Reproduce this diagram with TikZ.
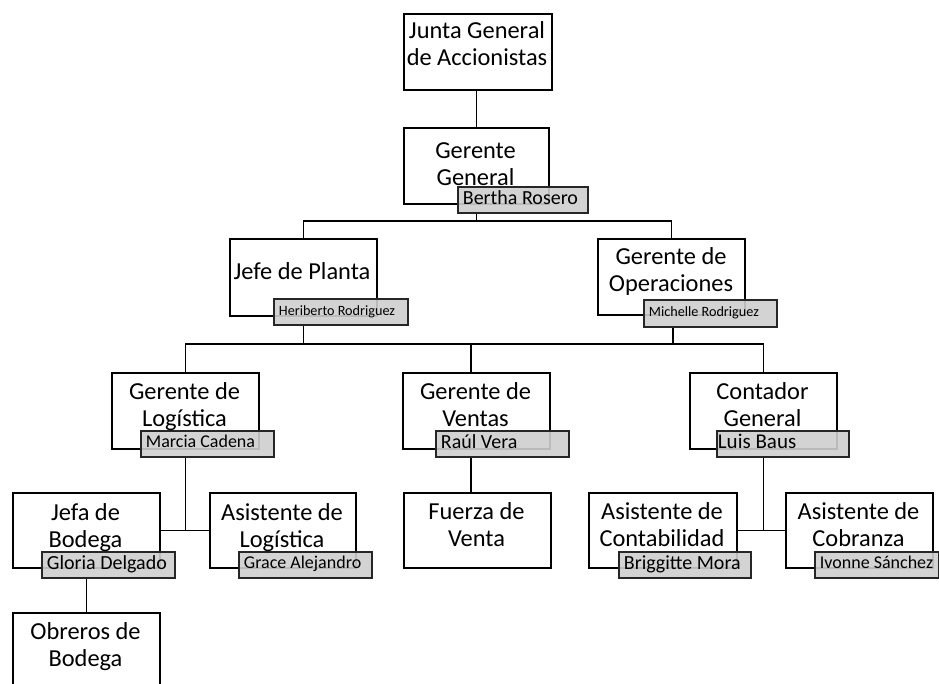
\documentclass[tikz,border=0pt]{standalone}
\usepackage{fontspec}
\setmainfont{Carlito}
\tikzset{
  orgbox/.style={draw=black, line width=1.8pt, fill=white, anchor=north west, inner sep=0pt},
  orgtag/.style={draw=black!85, line width=1.8pt, fill=gray!38, fill opacity=0.9, text opacity=1,
    anchor=north west, inner xsep=5pt, inner ysep=0pt},
  orglbl/.style={anchor=base, inner sep=0pt, font=\fontsize{24.4}{27}\selectfont},
  conn/.style={line width=1.8pt, draw=black}
}
\newcommand\obox[5]{\node[orgbox, minimum width={(#4-#2)*1pt}, minimum height={(#5-#3)*1pt}] (#1) at (#2,#3) {};}
\newcommand\otag[7]{\pgfmathsetlengthmacro\otw{(#4-#2)*1pt-10pt}%
  \pgfmathsetlengthmacro\oth{0.7*#6*1pt}%
  \pgfmathsetlengthmacro\otd{0.25*#6*1pt}%
  \node[orgtag, text height=\oth, text depth=\otd, minimum height={(#5-#3)*1pt}, font=\fontsize{#6}{#6}\selectfont] (#1) at (#2,#3) {\makebox[\otw][l]{#7}};}
\newcommand\olbl[4]{\node[orglbl] (#1) at (#2,#3) {\begin{tabular}[t]{@{}c@{}}#4\end{tabular}};}
\begin{document}
\begin{tikzpicture}[x=1pt,y=-1pt]
\useasboundingbox (0,0) rectangle (939,684);
\clip (0,0) rectangle (939,684);
\fill[white] (0,0) rectangle (939,684);

% coordinates for buses
\coordinate (bus1) at (0,221);
\coordinate (bus2) at (0,344);
\coordinate (gvx) at (471,0);

% boxes
\obox{junta}{403}{13}{551}{89}
\obox{gg}{403}{127}{548}{203}
\obox{jp}{229}{238}{376}{315}
\obox{go}{597}{238}{744}{314}
\obox{gl}{111}{372}{258}{448}
\obox{gv}{402}{372}{549}{448}
\obox{gc}{689}{372}{836}{448}
\obox{jb}{12}{492}{159}{567}
\obox{al}{209}{492}{355}{567}
\obox{fv}{403}{492}{550}{567}
\obox{ac}{588}{492}{736}{567}
\obox{aco}{785}{492}{932}{567}
\obox{ob}{12}{612}{159}{700}

% connectors
\draw[conn] (gg.north |- junta.south) -- (gg.north);
\draw[conn] (gg.south |- bus1) -- (gg.south |- 0,212);
\draw[conn] (jp.north) |- (bus1 -| go.north) -- (go.north);
\draw[conn] (jp.south |- 0,324) -- (jp.south |- bus2);
\draw[conn] (673,326) -- (673,344);
\draw[conn] (gl.north) |- (bus2 -| gc.north) -- (gc.north);
\draw[conn] (gvx |- gv.north) -- (gvx |- bus2);
\draw[conn] (gl.south |- 0,456) -- (gl.south |- jb.east);
\draw[conn] (jb.east) -- (al.west);
\draw[conn] (gvx |- 0,456) -- (gvx |- fv.north);
\draw[conn] (gc.south |- 0,456) -- (gc.south |- ac.east);
\draw[conn] (ac.east) -- (aco.west);
\draw[conn] (jb.south |- 0,577) -- (ob.north);

% name tags
\otag{ggn}{457}{186}{587}{212}{20}{Bertha Rosero}
\otag{jpn}{273}{298}{407}{324}{14.2}{Heriberto Rodriguez}
\otag{gon}{643}{299}{776}{326}{14.2}{Michelle Rodriguez}
\otag{gln}{140}{430}{273}{456}{18}{Marcia Cadena}
\otag{gvn}{435}{430}{568}{456}{20}{Raúl Vera}
\otag{gcn}{716}{430}{848}{456}{21}{\hspace{-4pt}Luis Baus}
\otag{jbn}{41}{551}{174}{577}{20}{Gloria Delgado}
\otag{aln}{238}{551}{371}{577}{18}{Grace Alejandro}
\otag{acn}{618}{551}{750}{577}{20}{Briggitte Mora}
\otag{acon}{814}{551}{938}{577}{18}{Ivonne Sánchez}

% labels
\olbl{junta-t}{477}{39}{Junta General\\de Accionistas}
\olbl{gg-t}{475.5}{159}{Gerente\\General}
\olbl{jp-t}{302}{280}{Jefe de Planta}
\olbl{go-t}{671}{265}{Gerente de\\Operaciones}
\olbl{gl-t}{184.5}{399}{Gerente de\\Logística}
\olbl{gv-t}{475.5}{399}{Gerente de\\Ventas}
\olbl{gc-t}{762.5}{399}{Contador\\General}
\olbl{jb-t}{85.5}{520}{Jefa de\\Bodega}
\olbl{al-t}{282}{520}{Asistente de\\Logística}
\olbl{fv-t}{476.5}{519}{Fuerza de\\Venta}
\olbl{ac-t}{662}{519}{Asistente de\\Contabilidad}
\olbl{aco-t}{858.5}{519}{Asistente de\\Cobranza}
\olbl{ob-t}{85.5}{639}{Obreros de\\Bodega}
\end{tikzpicture}
\end{document}
